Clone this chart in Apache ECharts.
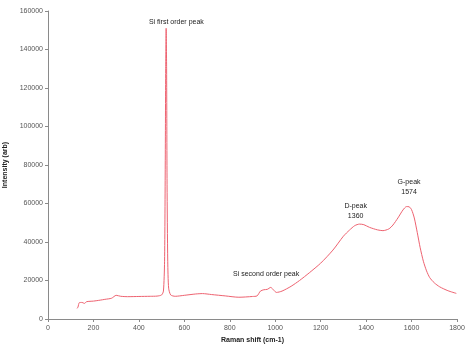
<!DOCTYPE html>
<html>
<head>
<meta charset="utf-8">
<script src="https://cdn.jsdelivr.net/npm/echarts@6/dist/echarts.min.js"></script>
<style>html,body{margin:0;padding:0;background:#fff}#c{width:465px;height:351px}</style>
</head>
<body>
<div id="c"></div>
<script>
var ramanShift = [128,132,138,150,160,170,200,230,250,280,300,320,350,400,450,480,500,508,513,516,518,520,522,524,527,531,540,560,600,650,680,720,780,840,900,920,935,950,965,980,995,1005,1030,1070,1107,1150,1200,1254,1300,1327,1350,1371,1390,1415,1450,1474,1500,1518,1540,1562,1578,1589,1600,1612,1625,1638,1652,1666,1680,1700,1724,1760,1797];
var intensity = [5500,6200,8500,8600,8100,9000,9300,9800,10200,10800,12300,11800,11600,11700,11800,11900,12500,14500,30000,80000,130000,151000,130000,70000,30000,16000,12500,11800,12300,13000,13200,12700,12000,11300,11700,12000,14500,15200,15400,16400,14800,13800,14500,17000,20000,24000,29000,35800,43000,46200,48500,49300,49000,47600,46300,45900,46800,48800,52500,56600,58400,58300,56800,52500,45000,37000,30000,25000,21500,18800,16700,14700,13300];
var annotations = [
  {text: 'Si first order peak', x: 565, y: 154300},
  {text: 'Si second order peak', x: 960, y: 23400},
  {text: 'D-peak\n1360', x: 1354, y: 56100},
  {text: 'G-peak\n1574', x: 1589, y: 68400}
];
var xTitle = 'Raman shift (cm-1)';
var yTitle = 'Intensity (arb)';

var chart = echarts.init(document.getElementById('c'), null, {renderer: 'canvas'});
var axisCommon = {
  axisLine: {show: true, lineStyle: {color: '#8a8a8a', width: 1}},
  axisTick: {show: true, length: 3, lineStyle: {color: '#8a8a8a'}},
  splitLine: {show: false},
  axisLabel: {color: '#555', fontSize: 7, fontFamily: 'Liberation Sans', formatter: function (v) { return String(v); }}
};
chart.setOption({
  animation: false,
  backgroundColor: '#fff',
  grid: {left: 48, right: 8, top: 11, bottom: 32, containLabel: false, outerBoundsMode: 'none'},
  xAxis: Object.assign({}, axisCommon, {
    type: 'value', min: 0, max: 1800, interval: 200,
    name: xTitle, nameLocation: 'middle', nameGap: 17,
    nameTextStyle: {fontSize: 7, fontWeight: 'bold', color: '#222', fontFamily: 'Liberation Sans'},
    axisLabel: Object.assign({}, axisCommon.axisLabel, {margin: 6})
  }),
  yAxis: Object.assign({}, axisCommon, {
    type: 'value', min: 0, max: 160000, interval: 20000,
    name: yTitle, nameLocation: 'middle', nameGap: 38,
    nameTextStyle: {fontSize: 7, fontWeight: 'bold', color: '#222', fontFamily: 'Liberation Sans'},
    axisLabel: Object.assign({}, axisCommon.axisLabel, {margin: 5})
  }),
  series: [{
    type: 'line',
    data: ramanShift.map(function (x, i) { return [x, intensity[i]]; }),
    showSymbol: false,
    smooth: 0.25,
    lineStyle: {color: '#ee6270', width: 1},
    markPoint: {
      symbol: 'circle', symbolSize: 0,
      label: {show: true, position: 'inside', fontSize: 7, lineHeight: 10, color: '#222', fontFamily: 'Liberation Sans',
        formatter: function (p) { return p.name; }},
      data: annotations.map(function (a) { return {name: a.text, coord: [a.x, a.y]}; })
    }
  }]
});
</script>
</body>
</html>
